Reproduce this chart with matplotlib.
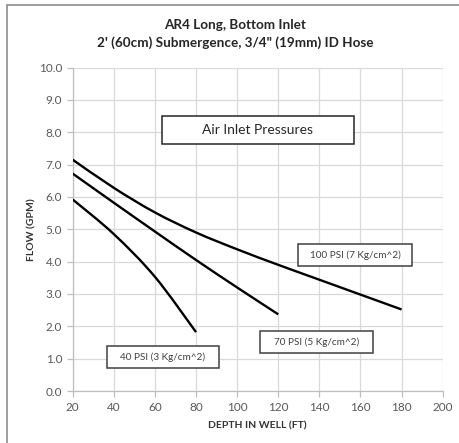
"""Air lift pump flow vs depth, AR4 long bottom inlet."""

import matplotlib

matplotlib.use("Agg")
import matplotlib.pyplot as plt
import numpy as np
from matplotlib.patches import PathPatch, Rectangle
from matplotlib.path import Path

plt.rcParams["font.family"] = ["Lato", "DejaVu Sans"]

# values
depth_100 = [20, 40, 60, 80, 100, 120, 140, 160, 180]
flow_100 = [7.15, 6.28, 5.52, 4.90, 4.38, 3.90, 3.44, 2.98, 2.52]
depth_70 = [20, 40, 60, 80, 100, 120]
flow_70 = [6.72, 5.82, 4.93, 4.05, 3.20, 2.37]
depth_40 = [20, 40, 60, 80]
flow_40 = [5.92, 4.85, 3.53, 1.82]

x_ticks = list(range(20, 201, 20))
y_ticks = [i * 1.0 for i in range(0, 11)]

title_lines = ["AR4 Long, Bottom Inlet", "2' (60cm) Submergence, 3/4\" (19mm) ID Hose"]
label_100 = "100 PSI (7 Kg/cm^2)"
label_70 = "70 PSI (5 Kg/cm^2)"
label_40 = "40 PSI (3 Kg/cm^2)"
legend_title = "Air Inlet Pressures"

W, H = 459, 443


def smooth_path(xs, ys):
    # Excel-style smoothed line: cubic bezier segments through every point
    p = np.column_stack([xs, ys]).astype(float)
    ext = np.vstack([p[0], p, p[-1]])
    verts = [p[0]]
    codes = [Path.MOVETO]
    for i in range(len(p) - 1):
        c1 = ext[i + 1] + (ext[i + 2] - ext[i]) / 6
        c2 = ext[i + 2] - (ext[i + 3] - ext[i + 1]) / 6
        verts += [c1, c2, p[i + 1]]
        codes += [Path.CURVE4] * 3
    return Path(verts, codes)


def px_box(fig, x0, y0, x1, y1, text, size, color, edge):
    # box given in figure pixels, text centred inside it
    fig.add_artist(Rectangle((x0 / W, 1 - y1 / H), (x1 - x0) / W, (y1 - y0) / H,
                             transform=fig.transFigure, facecolor="white",
                             edgecolor=edge, linewidth=1.1, zorder=5))
    fig.text((x0 + x1) / 2 / W, 1 - (y0 + y1) / 2 / H, text, ha="center",
             va="center", fontsize=size, color=color, zorder=6)


fig = plt.figure(figsize=(W / 100, H / 100), dpi=100)

# chart-area frame (only left and top edges visible in the reference)
fig.add_artist(Rectangle((7 / W, -0.05), 1.2, 1 - 5 / H + 0.05,
                         transform=fig.transFigure, fill=False,
                         edgecolor="#8c8c8c", linewidth=1.2))

ax = fig.add_axes([72.7 / W, 1 - 391 / H, 370 / W, 323.5 / H])

for xs, ys in ((depth_100, flow_100), (depth_70, flow_70), (depth_40, flow_40)):
    ax.add_patch(PathPatch(smooth_path(xs, ys), facecolor="none", edgecolor="black",
                           linewidth=1.7, capstyle="butt", zorder=3))

ax.set_xlim(20, 200)
ax.set_ylim(0, 10)
ax.set_xticks(x_ticks)
ax.set_yticks(y_ticks)
ax.set_yticklabels([f"{v:.1f}" for v in y_ticks])
ax.grid(True, color="#d9d9d9", linewidth=0.9)
ax.set_axisbelow(True)
for side in ("top", "right"):
    ax.spines[side].set_visible(False)
for side in ("left", "bottom"):
    ax.spines[side].set_color("#bfbfbf")
    ax.spines[side].set_linewidth(0.9)
ax.tick_params(axis="both", colors="#bfbfbf", length=4, width=0.9,
               labelcolor="#595959", labelsize=8.5)
ax.tick_params(axis="x", pad=4)

ax.set_xlabel("DEPTH IN WELL (FT)", fontsize=7.5, fontweight="bold",
              color="#333333", labelpad=6)
ax.set_ylabel("FLOW (GPM)", fontsize=7.5, fontweight="bold",
              color="#333333", labelpad=2)

fig.text(235 / W, 1 - 25 / H, title_lines[0], ha="center", va="center",
         fontsize=9.7, fontweight="bold", color="#262626")
fig.text(235 / W, 1 - 43 / H, title_lines[1], ha="center", va="center",
         fontsize=9.7, fontweight="bold", color="#262626")

px_box(fig, 162, 116, 354, 144, legend_title, 10, "#262626", "#262626")
px_box(fig, 298, 244, 412, 266, label_100, 7.2, "#404040", "#404040")
px_box(fig, 260, 331, 373, 353, label_70, 7.2, "#404040", "#404040")
px_box(fig, 107, 346, 219, 368, label_40, 7.2, "#404040", "#404040")

fig.savefig("out.png", dpi=100)
